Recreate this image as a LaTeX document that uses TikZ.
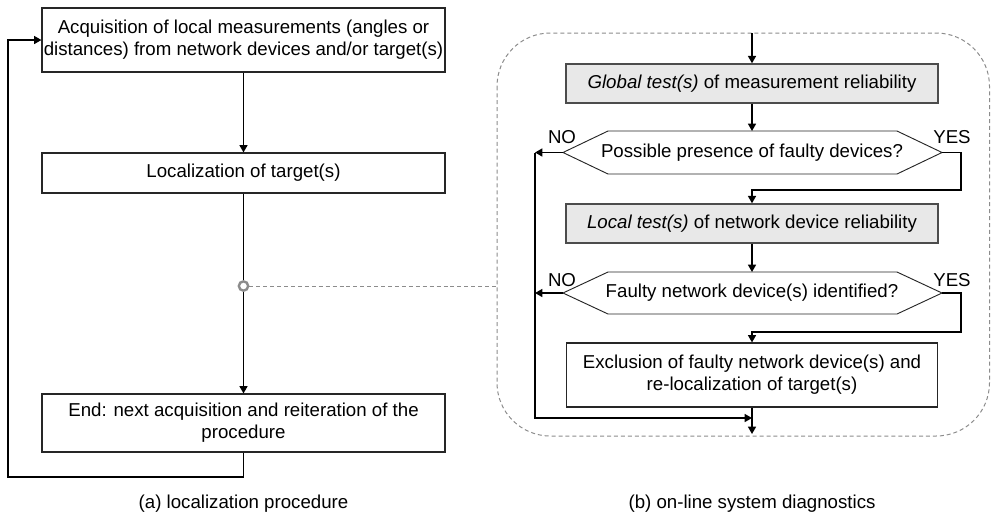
\documentclass[tikz,border=0pt]{standalone}
\usepackage{fontspec}
\setmainfont{Liberation Sans}
\usetikzlibrary{arrows.meta,calc}
\definecolor{boxgray}{HTML}{E8E8E8}
\definecolor{framegray}{HTML}{8C8C8C}
\begin{document}
\begin{tikzpicture}[x=0.75pt,y=-0.75pt,
  every node/.style={font=\fontsize{14}{16.3}\selectfont},
  box/.style={draw=black!85, line width=0.85pt, align=center, inner sep=0pt, fill=white},
  graybox/.style={draw=black!70, line width=1.1pt, align=center, inner sep=0pt, fill=boxgray},
  hexline/.style={draw=black!85, line width=0.7pt},
  conn/.style={draw=black, line width=1.1pt, -{Triangle[length=5.5pt,width=6pt]}},
  framedash/.style={draw=framegray, line width=0.75pt, dash pattern=on 3pt off 2.2pt},
  lbl/.style={inner sep=0pt},
  dot/.style={circle, draw=framegray, line width=1.8pt, fill=white, minimum size=7pt, inner sep=0pt}
]
\useasboundingbox (0,0) rectangle (991,519);

% ---------- (a) ----------
\node[box, minimum width=302.25pt, minimum height=48pt] (b1) at (243.5,40)
  {Acquisition of local measurements (angles or\\distances) from network devices and/or target(s)};
\node[box, minimum width=302.25pt, minimum height=30pt] (b2) at (243.5,173)
  {Localization of target(s)};
\node[box, minimum width=302.25pt, minimum height=43.5pt] (b3) at (243.5,423)
  {End: next acquisition and reiteration of the\\procedure};

\draw[conn] (b1.south) -- (b2.north);
\draw[conn] (b2.south) -- (b3.north);
\coordinate (fbr) at (243.5,477);
\coordinate (fbl) at (8,477);
\coordinate (fbt) at (8,40);
\draw[conn] (b3.south) -- (fbr) -- (fbl) -- (fbt) -- (b1.west);

% ---------- (b) frame ----------
\draw[framedash, rounded corners=40pt] (497,33) rectangle (989.5,436);
\coordinate (fr) at (497,286);
\node[dot] (c) at (243.5,286) {};
\draw[framedash] (c.east) -- (fr);

% ---------- (b) ----------
\coordinate (top) at (752,33);
\node[graybox, minimum width=279pt, minimum height=29.25pt] (glob) at (752,83.5)
  {\textit{Global test(s)} of measurement reliability};
\node[lbl] (h1) at (752,152.5) {Possible presence of faulty devices?};
\coordinate (h1w) at (563,152.5);
\coordinate (h1e) at (942,152.5);
\draw[hexline] (h1w) -- (608,131) -- (897,131) -- (h1e) -- (897,174) -- (608,174) -- cycle;

\node[graybox, minimum width=279pt, minimum height=29.25pt] (loc) at (752,223.5)
  {\textit{Local test(s)} of network device reliability};
\node[lbl] (h2) at (752,293) {Faulty network device(s) identified?};
\coordinate (h2w) at (563,293);
\coordinate (h2e) at (942,293);
\draw[hexline] (h2w) -- (608,272) -- (897,272) -- (h2e) -- (897,314) -- (608,314) -- cycle;

\node[box, minimum width=278.25pt, minimum height=48pt] (exc) at (752,375)
  {Exclusion of faulty network device(s) and\\re-localization of target(s)};
\coordinate (bot) at (752,434);

\draw[conn] (top) -- (glob.north);
\draw[conn] (glob.south) -- (752,131);
\draw[conn] (loc.south) -- (752,272);
\draw[conn] (exc.south) -- (bot);

% YES branches
\draw[conn] (h1e) -- (961,152.5) -- (961,190) -- (752,190) -- (loc.north);
\draw[conn] (h2e) -- (961,293) -- (961,332) -- (752,332) -- (exc.north);

% NO branches
\coordinate (n1) at (535,152.5);
\coordinate (n2) at (535,293);
\coordinate (jn) at (752,418);
\draw[conn] (h1w) -- (n1);
\draw[conn] (h2w) -- (n2);
\draw[conn] (n1) -- (535,418) -- (jn);

% labels
\node[lbl] (no1) at (562,137) {NO};
\node[lbl] (yes1) at (952,137) {YES};
\node[lbl] (no2) at (562,280) {NO};
\node[lbl] (yes2) at (952,280) {YES};

% captions
\node[lbl] (capa) at (243.5,504) {(a) localization procedure};
\node[lbl] (capb) at (752,504) {(b) on-line system diagnostics};
\end{tikzpicture}
\end{document}
